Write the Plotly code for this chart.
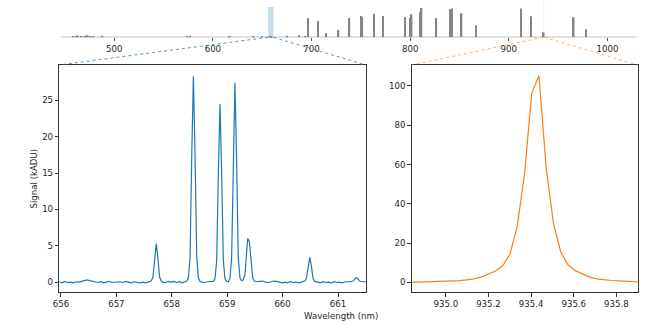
import plotly.graph_objects as go

# --- Lamp line list for the overview strip (wavelength nm, signal kADU) ---
line_wl = [458, 461, 463, 467, 471, 473, 476, 479, 488, 574, 577, 617, 641, 650,
           657.72, 658.39, 658.87, 659.14, 659.37, 660.49,
           675.3, 687.1, 693.8, 696.5, 706.7, 714.7, 727.3, 738.4, 750.4, 751.5,
           763.5, 772.4, 794.8, 800.6, 801.5, 810.4, 811.5, 826.5, 840.8, 842.5,
           852.1, 866.8, 912.3, 922.4, 935.4, 965.8, 978.5]
line_sig = [25, 20, 35, 20, 30, 40, 20, 25, 30, 20, 25, 15, 15, 15,
            5.3, 28.3, 24.5, 27.4, 6.0, 3.4,
            30, 40, 20, 395, 335, 90, 150, 395, 435, 410,
            480, 435, 415, 400, 470, 515, 600, 395, 575, 590,
            490, 245, 590, 430, 105.1, 410, 165]

# --- Zoom 1: 656-661.5 nm region ---
w656 = [655.97, 656.02, 656.07, 656.12, 656.17, 656.22, 656.27, 656.32,
        656.37, 656.42, 656.47, 656.52, 656.57,
        656.62, 656.67, 656.72, 656.77, 656.82, 656.87, 656.92, 656.97, 657.02, 657.07,
        657.12, 657.17, 657.22, 657.27, 657.32, 657.37, 657.42, 657.47, 657.52, 657.57,
        657.60, 657.63, 657.66, 657.69, 657.72, 657.75, 657.78, 657.81, 657.84,
        657.89, 657.94, 657.99, 658.04, 658.09, 658.14, 658.19, 658.24, 658.27,
        658.30, 658.33, 658.36, 658.39, 658.42, 658.45, 658.48, 658.51,
        658.55, 658.60, 658.65, 658.70, 658.75,
        658.78, 658.81, 658.84, 658.87, 658.90, 658.93, 658.96, 658.99,
        659.02,
        659.05, 659.08, 659.11, 659.14, 659.17, 659.20, 659.23, 659.26,
        659.29, 659.32, 659.35, 659.37, 659.40, 659.43, 659.46, 659.49,
        659.54, 659.59, 659.64, 659.69, 659.74, 659.79, 659.84, 659.89, 659.94, 659.99,
        660.04, 660.09, 660.14, 660.19, 660.24, 660.29, 660.34, 660.37,
        660.40, 660.43, 660.46, 660.49, 660.52, 660.55, 660.58,
        660.63, 660.68, 660.73, 660.78, 660.83, 660.88, 660.93, 660.98, 661.03, 661.08,
        661.13, 661.18, 661.23,
        661.27, 661.30, 661.33, 661.36, 661.39,
        661.44, 661.49, 661.52]
s656 = [0.05, -0.1, 0.1, -0.05, 0.0, -0.1, 0.05, 0.0,
        0.1, 0.25, 0.3, 0.2, 0.1,
        0.05, -0.05, 0.05, -0.1, 0.0, 0.1, -0.05, 0.0, 0.1, 0.05,
        -0.05, 0.1, 0.0, -0.1, 0.05, -0.05, -0.1, 0.0, -0.1, 0.0,
        0.05, 0.15, 0.7, 3.2, 5.3, 3.3, 0.7, 0.15, 0.0,
        -0.05, 0.1, 0.0, 0.1, -0.05, 0.05, -0.1, 0.1, 0.15,
        0.6, 3.4, 17.0, 28.3, 17.5, 3.5, 0.6, 0.1,
        0.0, -0.05, 0.05, 0.1, 0.1,
        0.5, 2.9, 14.7, 24.5, 15.0, 3.0, 0.5, 0.1,
        0.05,
        0.5, 3.3, 16.5, 27.4, 16.8, 3.4, 0.6, 0.2,
        0.3, 1.0, 4.0, 6.0, 5.6, 2.4, 0.6, 0.15,
        0.05, 0.1, 0.15, 0.0, -0.05, 0.05, 0.15, 0.1, -0.05, -0.1,
        0.0, -0.1, 0.05, -0.05, 0.0, -0.1, 0.0, 0.1,
        0.15, 0.5, 2.2, 3.4, 2.2, 0.5, 0.1,
        0.0, -0.1, 0.05, -0.05, 0.0, -0.1, 0.05, -0.05, 0.0, -0.1,
        0.05, 0.0, 0.05,
        0.15, 0.45, 0.65, 0.45, 0.15,
        0.05, 0.0, 0.05]

# --- Zoom 2: 935.4 nm line ---
w935 = [934.825, 934.859, 934.893, 934.927, 934.961, 934.995, 935.029, 935.063,
        935.097, 935.131, 935.165, 935.199, 935.233, 935.267, 935.301, 935.335,
        935.369, 935.403, 935.437, 935.471, 935.505, 935.539, 935.573, 935.607,
        935.641, 935.675, 935.709, 935.743, 935.777, 935.811, 935.845, 935.879, 935.913]
s935 = [0.0, 0.1, 0.2, 0.3, 0.4, 0.5, 0.7, 0.9,
        1.3, 1.8, 2.7, 4.2, 5.8, 8.5, 14.5, 28.5,
        55.0, 96.3, 105.1, 58.0, 30.0, 15.5, 9.0, 6.0,
        4.2, 2.7, 1.8, 1.3, 1.0, 0.8, 0.6, 0.4, 0.3]

left_ticks = [656, 657, 658, 659, 660, 661]
right_ticks = [935.0, 935.2, 935.4, 935.6, 935.8]
top_ticks = [500, 600, 700, 800, 900, 1000]

BLUE = "#1f77b4"
ORANGE = "#ff7f0e"
GREY = "#858585"
INK = "#262626"
FONT = "DejaVu Sans"
FS = 8.6

W, H = 650, 325

def px_x(p):
    return p / W

def px_y(p):
    return 1 - p / H

TOP_DOM_X = [px_x(61), px_x(637)]
TOP_DOM_Y = [px_y(37.3), px_y(7)]
L_DOM_X = [px_x(59.3), px_x(365.7)]
R_DOM_X = [px_x(411.7), px_x(637.7)]
LOW_DOM_Y = [px_y(292.3), px_y(65)]

TOP_RANGE = [446, 1030]
L_XRANGE = [655.97, 661.5]
R_XRANGE = [934.84, 935.90]

fig = go.Figure()

# overview strip
fig.add_trace(go.Bar(x=line_wl, y=line_sig, width=1.6, marker=dict(color=GREY, line=dict(width=0)),
                     xaxis="x", yaxis="y", hoverinfo="skip"))
# zoomed spectra
fig.add_trace(go.Scatter(x=w656, y=s656, mode="lines", line=dict(color=BLUE, width=1.2),
                         xaxis="x2", yaxis="y2"))
fig.add_trace(go.Scatter(x=w935, y=s935, mode="lines", line=dict(color=ORANGE, width=1.2),
                         xaxis="x3", yaxis="y3"))

tickfont = dict(family=FONT, size=FS, color=INK)
box = dict(showline=True, linecolor="#333333", linewidth=1, mirror=True,
           ticks="outside", ticklen=3.5, tickwidth=0.8, tickcolor="#333333",
           showgrid=False, zeroline=False, tickfont=tickfont, automargin=False)

fig.update_layout(
    width=W, height=H,
    margin=dict(l=0, r=0, t=0, b=0, autoexpand=False),
    paper_bgcolor="white", plot_bgcolor="white",
    showlegend=False,
    font=dict(family=FONT, size=FS, color=INK),
    xaxis=dict(domain=TOP_DOM_X, anchor="y", range=TOP_RANGE, tickvals=top_ticks,
               showline=False, ticks="outside", ticklen=3, tickwidth=0.8, tickcolor="#555555",
               showgrid=False, zeroline=False, tickfont=tickfont, automargin=False),
    yaxis=dict(domain=TOP_DOM_Y, anchor="x", range=[0, 620], visible=False, automargin=False),
    xaxis2=dict(domain=L_DOM_X, anchor="y2", range=L_XRANGE, tickvals=left_ticks, **box),
    yaxis2=dict(domain=LOW_DOM_Y, anchor="x2", range=[-1.4, 29.85],
                tickvals=[0, 5, 10, 15, 20, 25], **box),
    xaxis3=dict(domain=R_DOM_X, anchor="y3", range=R_XRANGE, tickvals=right_ticks,
                tickformat=".1f", **box),
    yaxis3=dict(domain=LOW_DOM_Y, anchor="x3", range=[-5.0, 110.6],
                tickvals=[0, 20, 40, 60, 80, 100], **box),
)

shapes = []
# baseline of the overview strip
shapes.append(dict(type="line", xref="x domain", yref="y", x0=0, x1=1, y0=0, y1=0,
                   line=dict(color=GREY, width=1.3), layer="above"))
# highlighted windows on the overview strip
shapes.append(dict(type="rect", xref="x", yref="y domain", x0=L_XRANGE[0], x1=L_XRANGE[1],
                   y0=0, y1=1, fillcolor=BLUE, opacity=0.25, line=dict(width=0), layer="below"))
shapes.append(dict(type="rect", xref="x", yref="y domain", x0=R_XRANGE[0], x1=R_XRANGE[1],
                   y0=0, y1=1.2, fillcolor=ORANGE, opacity=0.15, line=dict(width=0), layer="below"))


def top_x_paper(nm):
    return TOP_DOM_X[0] + (nm - TOP_RANGE[0]) / (TOP_RANGE[1] - TOP_RANGE[0]) * (TOP_DOM_X[1] - TOP_DOM_X[0])


# connector lines from the strip windows down to the zoomed panels
for rng, dom, col in [(L_XRANGE, L_DOM_X, "rgba(31,119,180,0.75)"),
                      (R_XRANGE, R_DOM_X, "rgba(255,127,14,0.6)")]:
    for nm, corner in zip(rng, dom):
        shapes.append(dict(type="line", xref="paper", yref="paper",
                           x0=top_x_paper(nm), y0=TOP_DOM_Y[0], x1=corner, y1=LOW_DOM_Y[1],
                           line=dict(color=col, width=1, dash="dot")))

fig.update_layout(shapes=shapes)

fig.add_annotation(text="Signal (kADU)", xref="paper", yref="paper", x=px_x(33), y=px_y(178.5),
                   xanchor="center", yanchor="middle",
                   textangle=-90, showarrow=False, font=dict(family=FONT, size=FS, color=INK))
fig.add_annotation(text="Wavelength (nm)", xref="paper", yref="paper", x=px_x(340.5), y=px_y(316),
                   xanchor="center", yanchor="middle",
                   showarrow=False, font=dict(family=FONT, size=FS, color=INK))

fig.write_html("out.html")
